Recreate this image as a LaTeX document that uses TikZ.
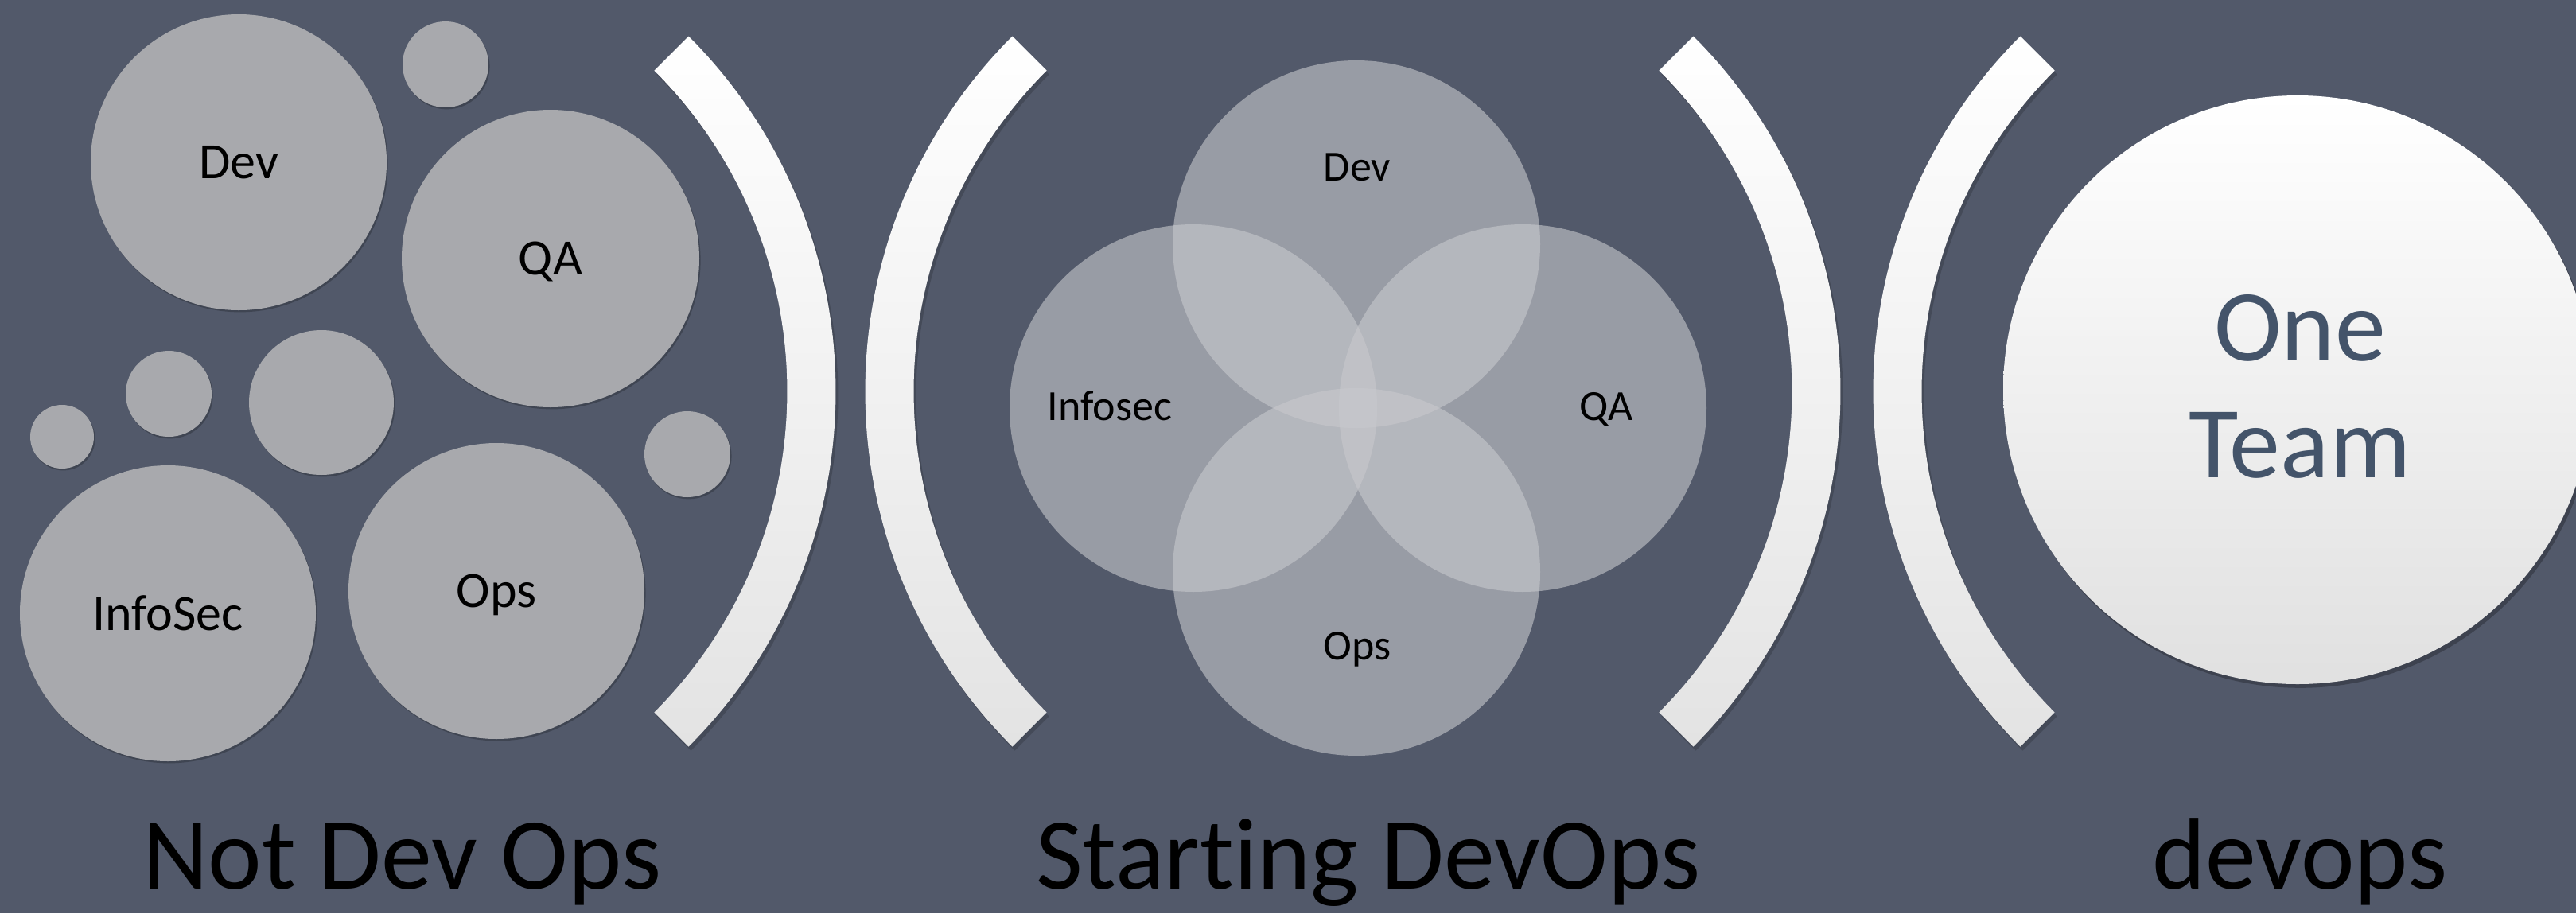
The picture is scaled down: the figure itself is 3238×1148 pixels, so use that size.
\documentclass[tikz,border=0pt]{standalone}
\usepackage{fontspec}
\setmainfont{Carlito}[Ligatures=NoCommon]
\usetikzlibrary{shadows}
\definecolor{bg}{RGB}{82,89,106}
\definecolor{gcol}{RGB}{168,169,173}
\definecolor{vcol}{RGB}{200,201,205}
\definecolor{teamblue}{RGB}{68,84,106}
\begin{document}
\begin{tikzpicture}[x=0.25pt,y=0.25pt,
  gcirc/.style={circle,fill=gcol,draw=none,inner sep=0pt,minimum size=#1,text depth=0pt,
    font=\fontsize{16}{19}\selectfont,text=black,
    drop shadow={shadow xshift=0.4pt,shadow yshift=-0.6pt,opacity=0.22,fill=black}},
  vcirc/.style={circle,fill=vcol,fill opacity=0.6,draw=none,inner sep=0pt,minimum size=115.5pt},
  vlab/.style={anchor=base,font=\fontsize{13.5}{16}\selectfont,text=black},
  captxt/.style={anchor=base,font=\fontsize{32}{38}\selectfont,text=black},
  brk/.style={top color=white,middle color=white,bottom color=black!11,draw=none},
  brkshadow/.style={fill=black,opacity=0.16,draw=none}]
% background
\fill[bg] (0,0) rectangle (3238,-1148);
\useasboundingbox (0,0) rectangle (3238,-1148);
\clip (0,0) rectangle (3238,-1148);

% ---------- Not Dev Ops ----------
\node[gcirc=93pt]   (dev1)  at (300,-204) {Dev};
\node[gcirc=27pt]   (s1)    at (560,-81)  {};
\node[gcirc=93.5pt] (qa1)   at (692,-325) {QA};
\node[gcirc=27pt]   (s2)    at (212,-495) {};
\node[gcirc=20pt]   (s3)    at (78,-549)  {};
\node[gcirc=45.5pt] (m1)    at (404,-506) {};
\node[gcirc=27pt]   (s4)    at (864,-571) {};
\node[gcirc=93pt]   (info1) at (211,-771) {InfoSec};
\node[gcirc=93pt]   (ops1)  at (624,-743) {Ops};

% ---------- brackets (shadows) ----------
\begin{scope}[shift={(3,-5)}]
\path[brkshadow] (865.5,-45.5) arc[start angle=45,end angle=-45,radius=631.5] -- ++(135:61) arc[start angle=-45,end angle=45,radius=570.5] -- cycle;
\path[brkshadow] (1272.5,-45.5) arc[start angle=135,end angle=225,radius=631.5] -- ++(45:61) arc[start angle=225,end angle=135,radius=570.5] -- cycle;
\path[brkshadow] (2128.5,-45.5) arc[start angle=45,end angle=-45,radius=631.5] -- ++(135:61) arc[start angle=-45,end angle=45,radius=570.5] -- cycle;
\path[brkshadow] (2539.5,-45.5) arc[start angle=135,end angle=225,radius=631.5] -- ++(45:61) arc[start angle=225,end angle=135,radius=570.5] -- cycle;
\end{scope}
% ---------- brackets ----------
\path[brk] (865.5,-45.5) arc[start angle=45,end angle=-45,radius=631.5] -- ++(135:61) arc[start angle=-45,end angle=45,radius=570.5] -- cycle;
\path[brk] (1272.5,-45.5) arc[start angle=135,end angle=225,radius=631.5] -- ++(45:61) arc[start angle=225,end angle=135,radius=570.5] -- cycle;
\path[brk] (2128.5,-45.5) arc[start angle=45,end angle=-45,radius=631.5] -- ++(135:61) arc[start angle=-45,end angle=45,radius=570.5] -- cycle;
\path[brk] (2539.5,-45.5) arc[start angle=135,end angle=225,radius=631.5] -- ++(45:61) arc[start angle=225,end angle=135,radius=570.5] -- cycle;

% ---------- Starting DevOps (Venn) ----------
\node[vcirc] (vdev)  at (1705,-307) {};
\node[vcirc] (vinfo) at (1500,-513) {};
\node[vcirc] (vqa)   at (1914,-513) {};
\node[vcirc] (vops)  at (1705,-719) {};
\node[vlab] (ldev)  at (1706,-227) {Dev};
\node[vlab] (linfo) at (1395,-528) {Infosec};
\node[vlab] (lqa)   at (2019,-528) {QA};
\node[vlab] (lops)  at (1706,-829) {Ops};

% ---------- One Team ----------
\node[circle,inner sep=0pt,minimum size=185pt,draw=none,
      top color=white,middle color=white,bottom color=black!12,
      drop shadow={shadow xshift=0.8pt,shadow yshift=-1.2pt,opacity=0.25,fill=black}] (team) at (2888,-490) {};
\node[align=center,font=\fontsize{32}{36.75}\selectfont,text=teamblue] (teamtxt) at (2891,-486) {One\\Team};

% ---------- captions ----------
\node[captxt] (c1) at (505,-1117)  {Not Dev Ops};
\node[captxt] (c2) at (1720,-1117) {Starting DevOps};
\node[captxt] (c3) at (2891,-1117) {devops};
\end{tikzpicture}
\end{document}
